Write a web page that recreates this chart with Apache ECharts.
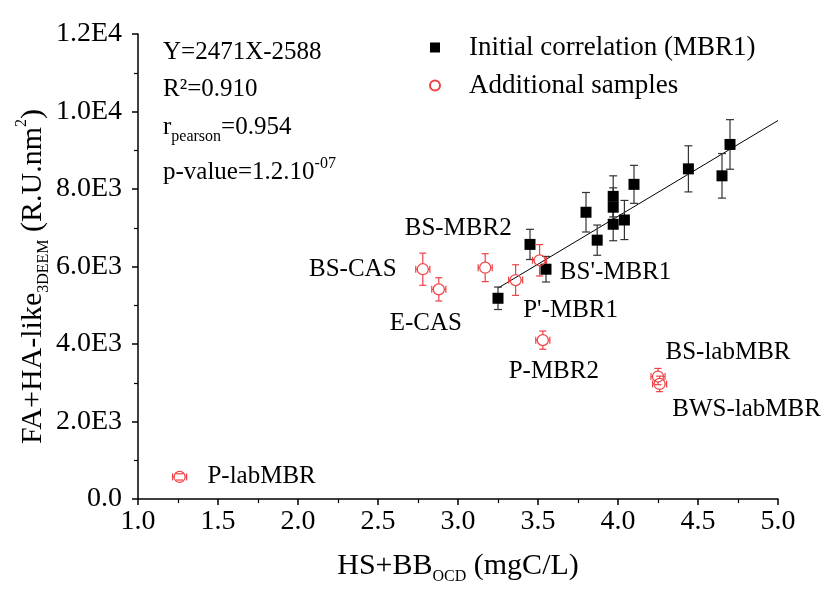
<!DOCTYPE html>
<html><head><meta charset="utf-8">
<script src="https://cdn.jsdelivr.net/npm/echarts@6/dist/echarts.min.js"></script>
<style>html,body{margin:0;padding:0;background:#fff}#c{width:827px;height:590px}</style>
</head><body><div id="c"></div>
<script>
const FONT = '"Liberation Serif", "DejaVu Serif", serif';
const RED = '#ee4146';

// Tick labels
const yTickValues = [0, 2000, 4000, 6000, 8000, 10000, 12000];
const yTickLabels = ['0.0', '2.0E3', '4.0E3', '6.0E3', '8.0E3', '1.0E4', '1.2E4'];
const xTickValues = [1.0, 1.5, 2.0, 2.5, 3.0, 3.5, 4.0, 4.5, 5.0];
const xTickLabels = ['1.0', '1.5', '2.0', '2.5', '3.0', '3.5', '4.0', '4.5', '5.0'];

// Initial correlation (MBR1)
const initialX = [3.25, 3.45, 3.55, 3.80, 3.87, 3.97, 3.97, 3.97, 4.04, 4.10, 4.44, 4.65, 4.70];
const initialY = [5180, 6570, 5930, 7400, 6680, 7810, 7530, 7090, 7200, 8120, 8520, 8340, 9150];
const initialYErr = [290, 390, 330, 510, 390, 530, 500, 425, 505, 490, 595, 575, 640];

// Additional samples
const sampleNames = ['BS-CAS', 'E-CAS', 'BS-MBR2', "P'-MBR1", "BS'-MBR1", 'P-MBR2', 'BS-labMBR', 'BWS-labMBR', 'P-labMBR'];
const sampleX = [2.78, 2.88, 3.17, 3.36, 3.51, 3.53, 4.25, 4.26, 1.26];
const sampleY = [5930, 5410, 5970, 5650, 6160, 4100, 3160, 2970, 570];
const sampleXErr = [0.044, 0.044, 0.044, 0.044, 0.044, 0.044, 0.044, 0.044, 0.044];
const sampleYErr = [415, 300, 360, 395, 405, 235, 210, 200, 80];

// Linear fit
const fitSlope = 2471, fitIntercept = -2588;
const fitXRange = [3.25, 5.0];

// label placement (style, not data)
const labelOffsets = {
  'BS-CAS': [-70, 0], 'E-CAS': [-13, 34], 'BS-MBR2': [-27, -39], "P'-MBR1": [55, 30],
  "BS'-MBR1": [76, 12], 'P-MBR2': [11, 31], 'BS-labMBR': [70, -24], 'BWS-labMBR': [87, 26], 'P-labMBR': [82, 0]
};

function makeErrRender(color, capHalf, gap) {
  return function (params, api) {
    const x = api.value(0), y = api.value(1), ex = api.value(2), ey = api.value(3);
    const c = api.coord([x, y]);
    const t = api.coord([x, y + ey]), b = api.coord([x, y - ey]);
    const l = api.coord([x - ex, y]), r = api.coord([x + ex, y]);
    const st = { stroke: color, lineWidth: 1.2 };
    const ch = [];
    const seg = (x1, y1, x2, y2) => ch.push({ type: 'line', shape: { x1, y1, x2, y2 }, style: st });
    if (ey > 0) {
      if (t[1] < c[1] - gap) { seg(c[0], c[1] - gap, c[0], t[1]); seg(c[0], c[1] + gap, c[0], b[1]); }
      seg(c[0] - capHalf, t[1], c[0] + capHalf, t[1]);
      seg(c[0] - capHalf, b[1], c[0] + capHalf, b[1]);
    }
    if (ex > 0) {
      if (l[0] < c[0] - gap) { seg(c[0] - gap, c[1], l[0], c[1]); seg(c[0] + gap, c[1], r[0], c[1]); }
      seg(l[0], c[1] - capHalf, l[0], c[1] + capHalf);
      seg(r[0], c[1] - capHalf, r[0], c[1] + capHalf);
    }
    return { type: 'group', children: ch };
  };
}

const initialData = initialX.map((x, i) => [x, initialY[i]]);
const initialErr = initialX.map((x, i) => [x, initialY[i], 0, initialYErr[i]]);
const sampleData = sampleNames.map((n, i) => ({
  name: n, value: [sampleX[i], sampleY[i]],
  label: { show: true, position: 'inside', offset: labelOffsets[n], formatter: n }
}));
const sampleErr = sampleX.map((x, i) => [x, sampleY[i], sampleXErr[i], sampleYErr[i]]);
const fitData = fitXRange.map(x => [x, fitSlope * x + fitIntercept]);

const mainRich = (fs, lh) => ({
  m: { fontFamily: FONT, fontSize: fs, color: '#000', lineHeight: lh || 36 },
  s: { fontFamily: FONT, fontSize: 16, color: '#000', lineHeight: 14, verticalAlign: 'bottom' },
  p: { fontFamily: FONT, fontSize: 16, color: '#000', lineHeight: 14, verticalAlign: 'top' },
  g: { width: 20, fontSize: 10, lineHeight: 10 }
});

const chart = echarts.init(document.getElementById('c'), null, { renderer: 'canvas' });
chart.setOption({
  backgroundColor: '#fff',
  animation: false,
  textStyle: { fontFamily: FONT },
  grid: { left: 138, right: 49, top: 34, bottom: 85 },
  xAxis: {
    type: 'value', min: 1, max: 5, interval: 0.5,
    name: '{m|HS+BB}{s|OCD}{m| (mgC/L)}',
    nameLocation: 'middle', nameGap: 48, nameMoveOverlap: false,
    nameTextStyle: { rich: mainRich(30, 38) },
    axisLine: { lineStyle: { color: '#000', width: 1.5 } },
    axisTick: { show: true, inside: false, length: 6, lineStyle: { color: '#000', width: 1.5 } },
    minorTick: { show: true, splitNumber: 2, length: 4, lineStyle: { color: '#000', width: 1.2 } },
    axisLabel: {
      fontFamily: FONT, fontSize: 28, color: '#000', margin: 9,
      formatter: v => { const k = xTickValues.findIndex(t => Math.abs(t - v) < 1e-9); return k >= 0 ? xTickLabels[k] : ''; }
    },
    splitLine: { show: false }
  },
  yAxis: {
    type: 'value', min: 0, max: 12000, interval: 2000,
    name: '{m|FA+HA-like}{s|3DEEM}{m| (R.U.nm}{p|2}{m|)}{g| }',
    nameLocation: 'middle', nameGap: 86, nameRotate: 90, nameMoveOverlap: false,
    nameTextStyle: { rich: mainRich(30, 38) },
    axisLine: { show: true, lineStyle: { color: '#000', width: 1.5 } },
    axisTick: { show: true, inside: false, length: 6, lineStyle: { color: '#000', width: 1.5 } },
    minorTick: { show: true, splitNumber: 2, length: 4, lineStyle: { color: '#000', width: 1.2 } },
    axisLabel: {
      fontFamily: FONT, fontSize: 28, color: '#000', margin: 16,
      formatter: v => { const k = yTickValues.indexOf(v); return k >= 0 ? yTickLabels[k] : ''; }
    },
    splitLine: { show: false }
  },
  legend: {
    orient: 'vertical', left: 424, top: 29, itemWidth: 10, itemHeight: 10, itemGap: 11,
    textStyle: { fontFamily: FONT, fontSize: 27, lineHeight: 26, color: '#000', padding: [0, 0, 0, 24] },
    data: [{ name: 'Initial correlation (MBR1)', icon: 'rect' }, { name: 'Additional samples', icon: 'circle' }]
  },
  graphic: [
    { type: 'text', x: 163, y: 52, style: { text: 'Y=2471X-2588', font: '25px ' + FONT, fill: '#000', verticalAlign: 'middle' } },
    { type: 'text', x: 163, y: 89, style: { text: 'R²=0.910', font: '25px ' + FONT, fill: '#000', verticalAlign: 'middle' } },
    { type: 'text', x: 163, y: 127, style: { text: '{m|r}{s|pearson}{m|=0.954}', rich: mainRich(25), verticalAlign: 'middle' } },
    { type: 'text', x: 163, y: 172, style: { text: '{m|p-value=1.2.10}{p|-07}', rich: mainRich(25, 32), verticalAlign: 'middle' } }
  ],
  series: [
    {
      type: 'line', data: fitData, symbol: 'none', silent: true, z: 1,
      lineStyle: { color: '#000', width: 1 }
    },
    {
      type: 'custom', data: initialErr, renderItem: makeErrRender('#333', 4, 0),
      encode: { x: 0, y: 1 }, z: 2, silent: true
    },
    {
      type: 'custom', data: sampleErr, renderItem: makeErrRender(RED, 3.5, 5.5),
      encode: { x: 0, y: 1 }, z: 2, silent: true
    },
    {
      name: 'Initial correlation (MBR1)', type: 'scatter', data: initialData,
      symbol: 'rect', symbolSize: 11, z: 3,
      itemStyle: { color: '#000', opacity: 1 }
    },
    {
      name: 'Additional samples', type: 'scatter', data: sampleData,
      symbol: 'circle', symbolSize: 11, z: 3,
      itemStyle: { color: 'rgba(255,255,255,0)', borderColor: RED, borderWidth: 1.2, opacity: 1 },
      label: { fontFamily: FONT, fontSize: 25, color: '#000' }
    }
  ]
});
</script>
</body></html>
